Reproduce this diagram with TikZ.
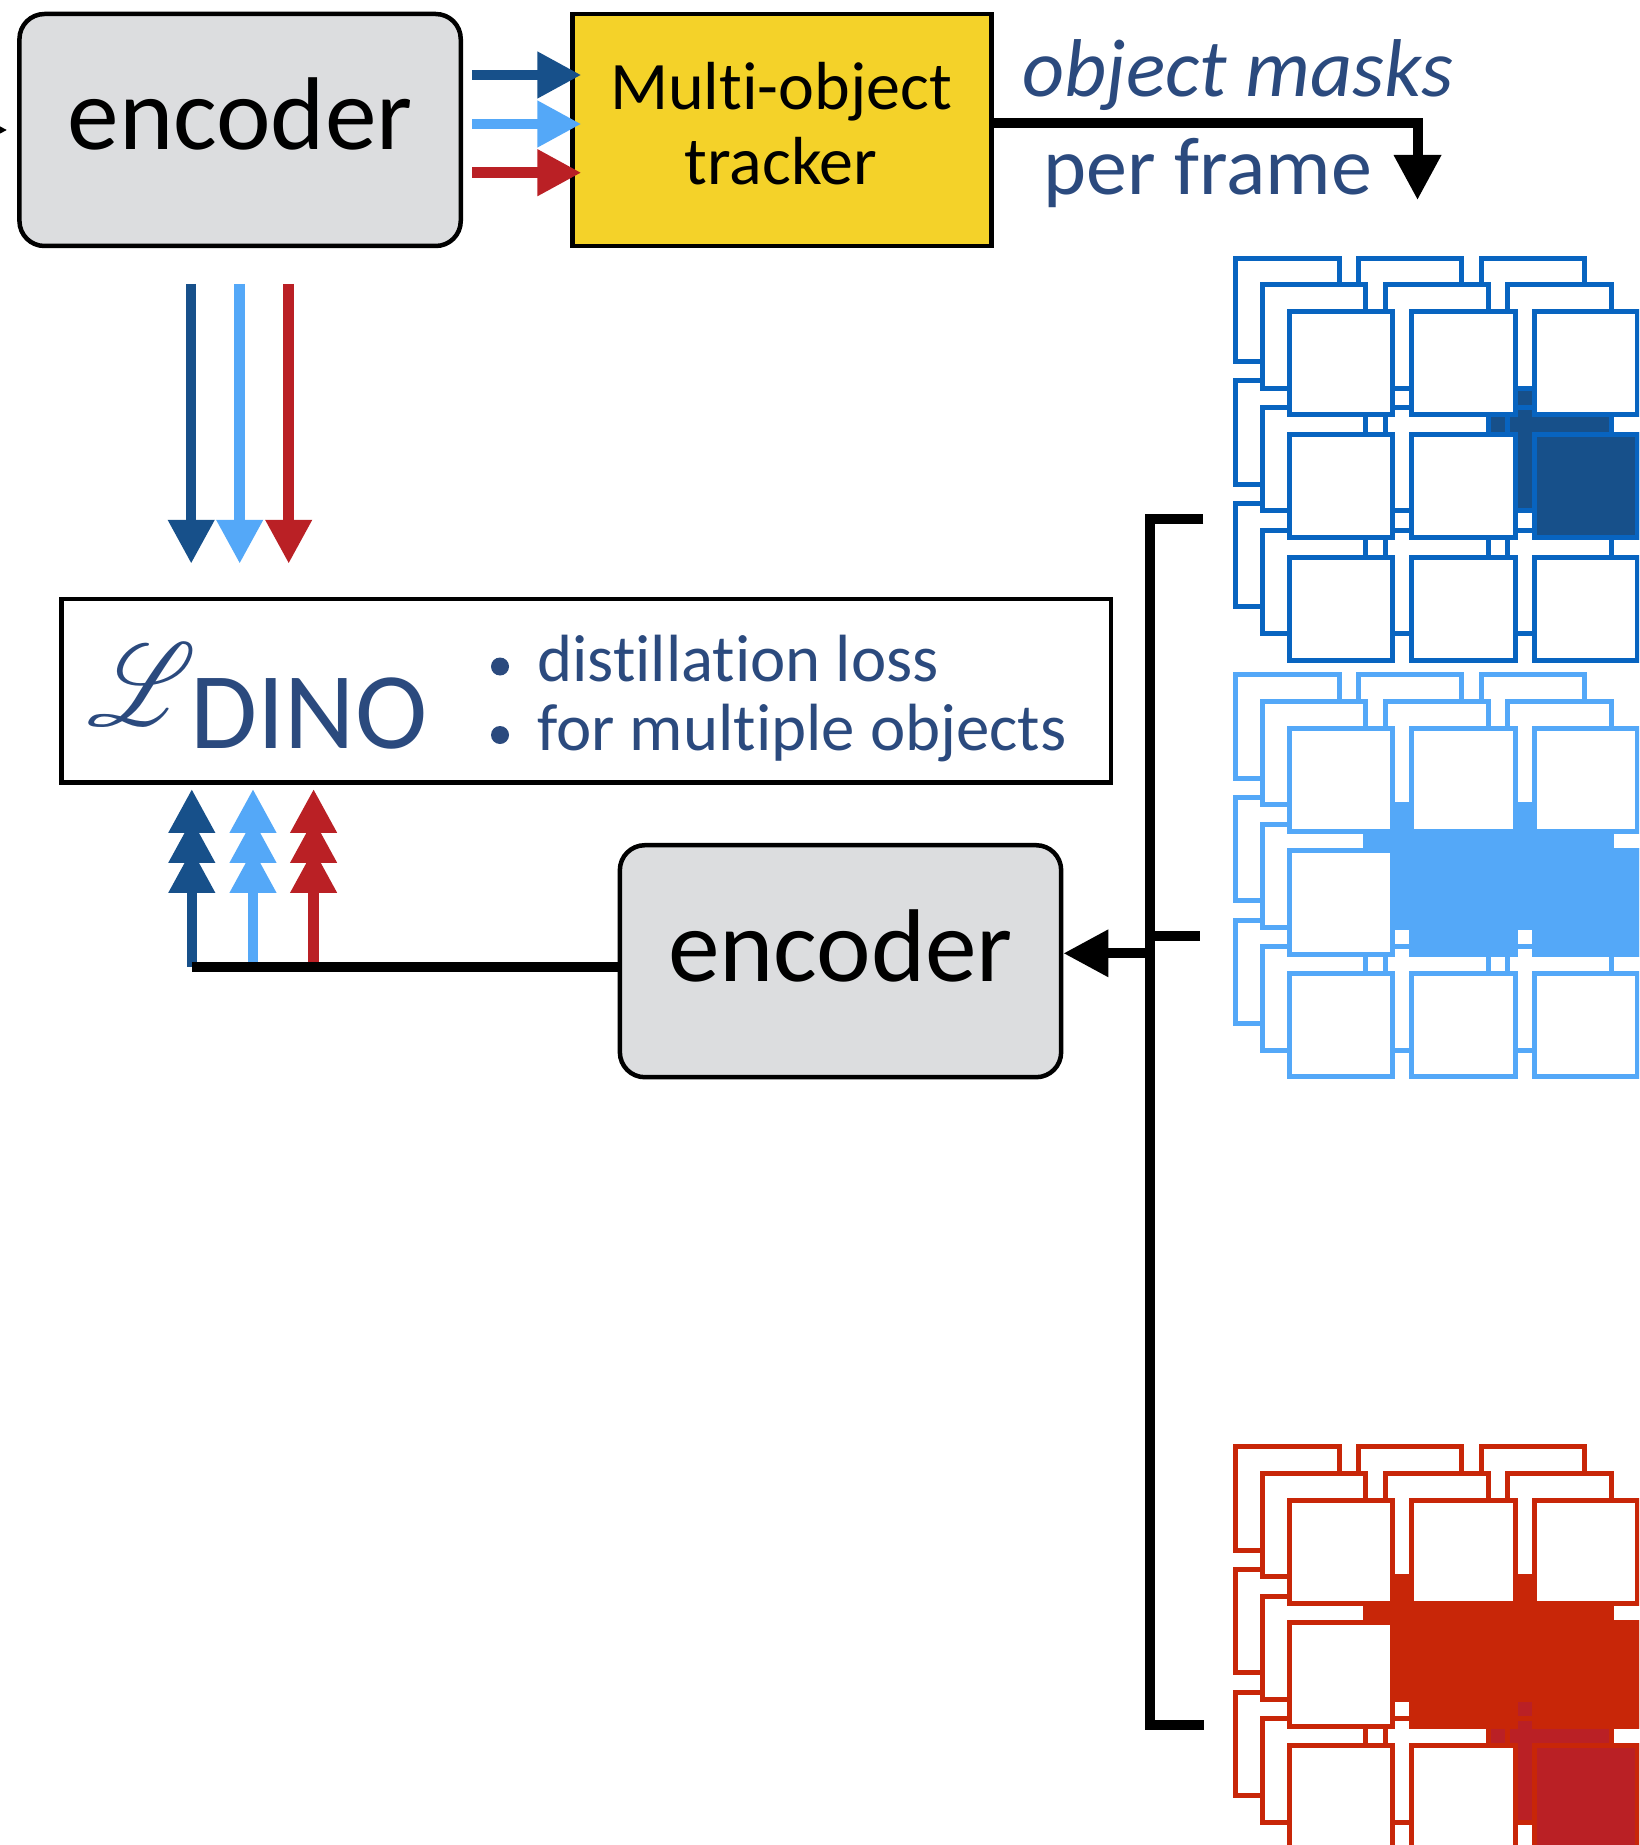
\documentclass[tikz,border=0pt]{standalone}
\usepackage{fontspec}
\setmainfont{Carlito}[Ligatures={NoCommon,NoContextual,NoRequired},Contextuals=NoAlternate]
\usepackage{mathrsfs}
\usetikzlibrary{arrows.meta}

\definecolor{encgray}{RGB}{220,221,223}
\definecolor{trackyel}{RGB}{244,210,41}
\definecolor{inkblue}{RGB}{43,74,126}
\definecolor{objdark}{RGB}{23,80,138}
\definecolor{objlight}{RGB}{84,168,248}
\definecolor{objred}{RGB}{186,32,37}
\definecolor{gridmid}{RGB}{8,100,192}
\definecolor{gridorange}{RGB}{200,38,8}

% keeps "t" and "i" as separate glyphs
\newcommand\tI{t\kern0pt i}

% three stacked frames of 3x3 patches; #4 lists row/col/colour of the masked patches
\newcommand\framestack[4]{%
  \foreach \lay in {0,1,2}{
    \foreach \row in {0,1,2}{
      \foreach \col in {0,1,2}{
        \draw[cellbox, draw=#3, fill=white]
          ({#1+2.5+26.7*\lay+122.7*\col},{#2+2.5+26.7*\lay+122.7*\row}) rectangle ++(103.3,103.3);
      }}
    \foreach \row/\col/\cellcol in {#4}{
        \draw[cellbox, draw=#3, fill=\cellcol]
          ({#1+2.5+26.7*\lay+122.7*\col},{#2+2.5+26.7*\lay+122.7*\row}) rectangle ++(103.3,103.3);
    }
  }}

\begin{document}
\begin{tikzpicture}[x=0.5pt, y=-0.5pt,
  box/.style={draw=black, line width=2.25pt, inner sep=0pt},
  encbox/.style={box, fill=encgray, rounded corners=12.5pt,
    minimum width=220.65pt, minimum height=116pt,
    font=\fontsize{51.7pt}{60pt}\selectfont, text height=20pt, text depth=0pt},
  trackbox/.style={box, fill=trackyel, minimum width=209.4pt, minimum height=115.9pt},
  lossbox/.style={box, fill=white, minimum width=524.8pt, minimum height=91.75pt},
  label/.style={inner sep=0pt, text=inkblue},
  conn/.style={line width=5pt, line cap=butt},
  blkarrow/.style={conn, -{Triangle[length=22.5pt,width=22.5pt]}},
  colarrow/.style={line width=5.25pt, -{Triangle[length=22pt,width=22pt]}},
  cellbox/.style={line width=2.5pt},
]
\useasboundingbox (0,0) rectangle (1639,1845);
\clip (0,0) rectangle (1639,1845);
\fill[white] (0,0) rectangle (1639,1845);

% boxes
\node[encbox] (enc1) at (240.1,130) {encoder};
\node[trackbox] (tracker) at (782,129.9) {};
\node[inner sep=0pt, anchor=base, font=\fontsize{34pt}{40pt}\selectfont] (trk1) at (781,110) {Mul\tI-object};
\node[inner sep=0pt, anchor=base, font=\fontsize{34pt}{40pt}\selectfont] (trk2) at (781,185) {tracker};
\node[lossbox] (dino) at (586.2,690.75) {};
\node[encbox] (enc2) at (840.5,961.2) {encoder};

% loss text
\node[label, anchor=base west, font=\fontsize{24.88pt}{30pt}\selectfont] (ell) at (87,725) {\scalebox{2.05}[2.35]{$\mathscr{L}$}};
\node[label, anchor=base west, font=\fontsize{54.5pt}{60pt}\selectfont] (dinolbl) at (190,748.3) {DINO};
\fill[inkblue] (500,666.5) circle (4.5pt);
\fill[inkblue] (500,735) circle (4.5pt);
\node[label, anchor=base west, font=\fontsize{33.4pt}{40pt}\selectfont] (pt1) at (537,681.7) {dis\tI lla\tI on loss};
\node[label, anchor=base west, font=\fontsize{33.4pt}{40pt}\selectfont] (pt2) at (537,750) {for mul\tI ple objects};

% tracker output labels
\node[label, anchor=base west, font=\itshape\fontsize{41pt}{48pt}\selectfont] (masklbl) at (1022,96.7) {object masks};
\node[label, anchor=base west, font=\fontsize{41pt}{48pt}\selectfont] (framelbl) at (1043,195) {per frame};

% input into the first encoder
\coordinate (feed) at (-60,130);
\draw[blkarrow, shorten >=4.9pt] (feed) -- (enc1.west);

% encoder features to the tracker
\draw[colarrow, objdark, shorten <=4.5pt, shorten >=-5.5pt] ([yshift=27.5pt]enc1.east) -- ([yshift=27.5pt]enc1.east -| tracker.west);
\draw[colarrow, objlight, shorten <=4.5pt, shorten >=-5.5pt] ([yshift=3pt]enc1.east) -- ([yshift=3pt]enc1.east -| tracker.west);
\draw[colarrow, objred, shorten <=4.5pt, shorten >=-5.5pt] ([yshift=-21.35pt]enc1.east) -- ([yshift=-21.35pt]enc1.east -| tracker.west);

% encoder features down to the loss
\draw[colarrow, objdark, shorten <=17.8pt, shorten >=16.5pt] ([xshift=-24.45pt]enc1.south) -- ([xshift=-24.45pt]enc1.south |- dino.north);
\draw[colarrow, objlight, shorten <=17.8pt, shorten >=16.5pt] ([xshift=-0.2pt]enc1.south) -- ([xshift=-0.2pt]enc1.south |- dino.north);
\draw[colarrow, objred, shorten <=17.8pt, shorten >=16.5pt] ([xshift=24.3pt]enc1.south) -- ([xshift=24.3pt]enc1.south |- dino.north);

% second encoder features up to the loss
\coordinate (up1) at (191.8,966.7);
\coordinate (up2) at (253,966.7);
\coordinate (up3) at (313.6,966.7);
\foreach \p/\c in {up1/objdark, up2/objlight, up3/objred}{
  \foreach \s in {32.1,17.1,2.1}{
    \draw[colarrow, color=\c, shorten >=\s pt] (\p) -- (\p |- dino.south);
  }
}
\draw[conn] (up1) -- (up1 -| enc2.west);

% tracker output
\coordinate (maskdrop) at (1417.5,200);
\draw[blkarrow] ([yshift=3.45pt]tracker.east) -| (maskdrop);

% bracket collecting the masked frames
\coordinate (brTop) at (1203.3,519.3);
\coordinate (brMid) at (1200,935.7);
\coordinate (brBot) at (1203.8,1724.5);
\coordinate (spine) at (1150,953.3);
\draw[conn] (brTop) -- (brTop -| spine) -- (brBot -| spine) -- (brBot);
\draw[conn] (brMid -| spine) -- (brMid);
\draw[blkarrow] (spine) -- ([yshift=3.95pt]enc2.east);

% masked frames
\framestack{1233.3}{255.7}{gridmid}{1/2/objdark}
\framestack{1233.3}{672.3}{objlight}{1/1/objlight,1/2/objlight}
\framestack{1233.3}{1444.3}{gridorange}{1/1/gridorange,1/2/gridorange,2/2/objred}
\end{tikzpicture}
\end{document}
